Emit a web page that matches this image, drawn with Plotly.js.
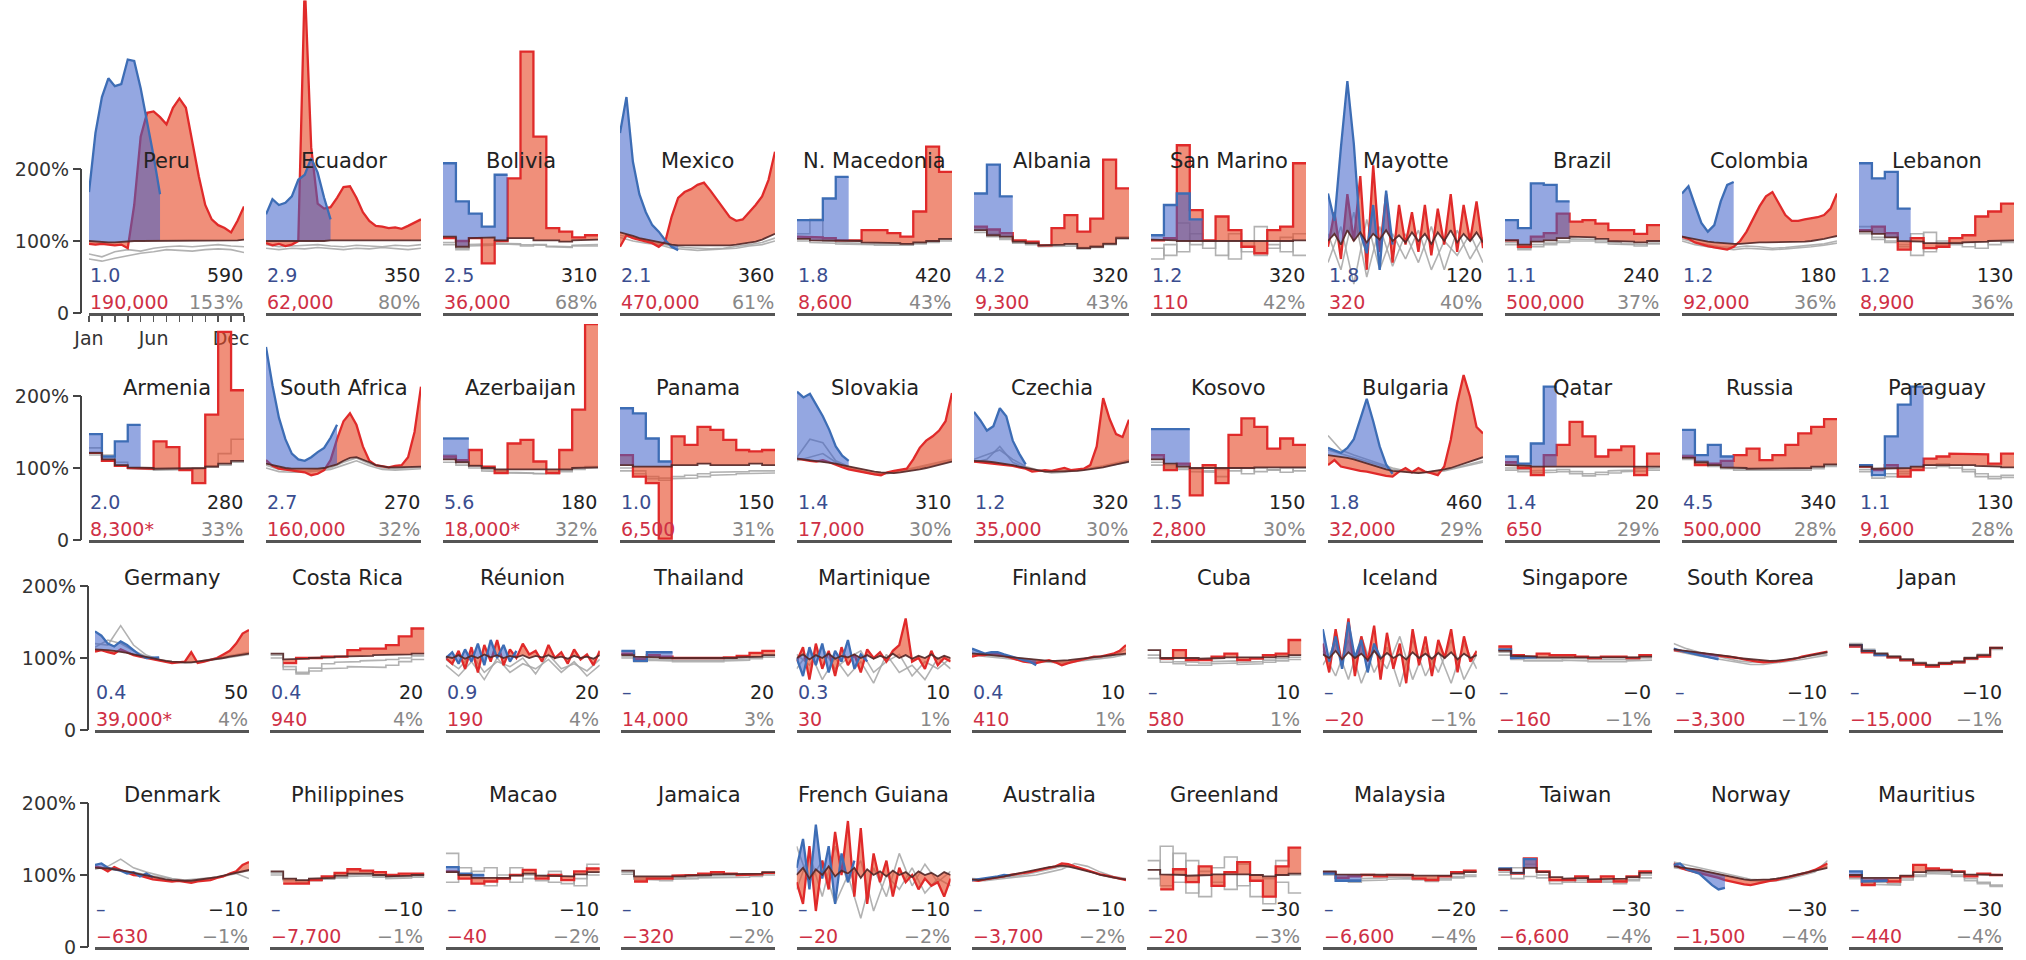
<!DOCTYPE html>
<html><head><meta charset="utf-8">
<script src="https://cdn.plot.ly/plotly-3.0.1.min.js"></script>
<style>html,body{margin:0;padding:0;background:#fff;}</style>
</head><body><div id="chart" style="width:2026px;height:960px"></div>
<script>
// ---------- DATA (percent of baseline mortality) ----------
// weekly-style panels: red/base = 25 points (half-month grid), blue = first k points, grey = 13 points (monthly grid)
// monthly panels: 12 values each
const peruBlue=[168,250,300,326,315,318,352,350,312,265,218,165];
const peruRed=[96,95,96,95,94,95,90,150,245,278,280,272,262,285,298,285,235,190,150,130,122,118,112,128,148];
const peruBase=[100,99,99,98,98,99,100,100,100,100,101,101,101,101,101,100,100,100,100,100,100,100,101,101,102];
const peruG1=[82,78,85,88,86,90,92,93,92,94,95,93,92], peruG2=[75,72,76,80,83,85,88,87,86,88,89,88,84];

const ecuBlue=[137,158,150,153,162,185,192,215,195,160,130];
const ecuRed=[97,94,96,93,95,100,460,230,152,145,147,160,175,176,160,140,128,121,120,118,119,117,121,125,130];
const ecuBase=[100,100,99,99,99,100,100,100,100,100,101,101,101,101,100,100,100,100,100,100,100,100,100,100,101];
const ecuG1=[95,92,93,94,95,93,92,94,93,92,94,93,95], ecuG2=[90,88,90,89,91,90,88,90,89,91,90,88,90];

const bolBlue=[208,155,138,120,192];
const bolRed=[104,100,104,69,100,187,363,245,118,113,105,108];
const bolBase=[106,92,104,105,101,104,104,101,101,99,101,102];
const bolG1=[98,90,95,96,97,96,95,94,93,92,94,95], bolG2=[95,88,93,94,96,95,93,95,92,91,93,93];

const mexBlue=[250,300,210,165,140,122,113,101,92,87];
const mexRed=[92,108,104,102,100,97,92,99,134,160,168,172,178,181,170,158,145,133,128,130,140,150,162,185,224];
const mexBase=[112,110,107,104,102,100,98,96,95,94,94,94,93,93,93,94,94,94,95,96,97,99,102,106,110];
const mexG1=[108,104,100,97,93,91,90,89,90,92,95,98,104], mexG2=[105,100,97,95,90,88,87,88,89,90,93,95,100];

const macBlue=[129,129,159,189];
const macRed=[106,105,104,101,101,115,115,111,106,141,231,196];
const macBase=[103,101,100,100,100,98,97,97,96,98,100,103];
const macG1=[110,130,100,98,97,96,95,96,95,97,99,102], macG2=[100,98,97,96,95,95,94,93,94,96,98,100];

const albBlue=[166,206,162];
const albRed=[120,116,111,101,99,94,118,136,113,131,213,173];
const albBase=[115,108,106,99,97,94,95,96,90,92,96,104];
const albG1=[118,110,104,98,96,93,94,95,91,93,97,106], albG2=[112,106,102,97,95,92,93,93,89,91,95,103];

const smrBlue=[108,150,166,130];
const smrRed=[101,104,233,143,101,134,115,92,83,115,120,208];
const smrBase=[102,101,100,100,100,100,100,100,99,100,100,101];
const smrG1=[90,80,125,95,100,80,110,85,120,95,85,110], smrG2=[75,95,85,110,90,100,75,100,80,90,105,80];

const mayBlue=[166,128,230,322,235,111,83,150,60,170,95];
const mayRed=[92,140,75,165,100,190,60,205,85,165,70,150,95,140,85,150,80,145,95,165,85,150,100,155,90];
const mayBase=[100,110,95,115,100,112,98,110,102,115,100,108,98,112,100,110,96,112,100,115,98,110,100,112,98];
const mayG1=[70,120,40,130,60,110,75,115,60,100,80,110,70], mayG2=[110,60,140,50,120,65,110,70,120,60,115,75,105];

const braBlue=[129,118,180,178,155];
const braRed=[101,92,106,111,138,127,129,124,115,115,110,122];
const braBase=[101,95,99,101,104,106,105,103,100,99,98,100];
const braG1=[98,90,95,97,100,103,102,100,98,96,95,97], braG2=[95,88,92,95,98,100,100,98,96,95,93,96];

const colBlue=[166,176,150,125,113,122,155,178,182];
const colRed=[106,103,98,95,93,91,89,88,92,100,113,130,148,162,168,152,136,128,128,130,131,133,136,145,166];
const colBase=[106,104,102,100,99,98,97,97,96,96,97,97,98,98,98,98,98,98,98,99,100,101,103,105,107];
const colG1=[103,98,95,92,91,93,92,90,91,93,94,96,100], colG2=[100,95,92,90,88,90,89,88,89,90,92,94,97];

const lebBlue=[208,187,196,145];
const lebRed=[115,120,111,88,104,90,92,104,108,134,141,152];
const lebBase=[113,110,105,100,99,97,96,97,98,99,100,101];
const lebG1=[120,105,100,95,110,85,100,95,98,90,100,98], lebG2=[110,102,98,92,80,112,95,98,92,99,95,100];

const armBlue=[147,116,137,160];
const armRed=[121,110,103,100,99,137,129,97,79,174,289,208];
const armBase=[121,112,104,101,100,99,99,99,100,102,106,110];
const armG1=[128,118,108,100,99,98,98,99,100,103,120,140], armG2=[118,110,103,99,98,97,97,98,99,101,104,108];

const zafBlue=[268,215,170,140,120,112,110,115,122,128,142,160];
const zafRed=[111,103,99,98,97,96,94,90,92,97,111,140,165,176,160,130,110,104,102,101,103,104,115,150,213];
const zafBase=[106,104,101,100,99,99,98,98,99,100,102,105,110,114,115,112,108,104,102,101,101,101,102,102,102];
const zafG1=[104,98,97,96,98,100,108,114,106,100,99,100,101], zafG2=[100,95,94,94,96,98,104,110,103,98,97,98,99];

const azeBlue=[141,141];
const azeRed=[116,111,125,102,93,134,139,109,93,125,181,300];
const azeBase=[112,108,103,100,98,97,97,98,97,98,100,101];
const azeG1=[118,110,104,98,96,94,93,92,94,97,100,102], azeG2=[108,104,100,96,95,93,92,93,92,95,98,100];

const panBlue=[183,176,141,109];
const panRed=[118,88,79,2,144,132,157,153,139,125,123,125];
const panBase=[104,102,102,102,104,104,106,104,104,104,106,104];
const panG1=[100,96,88,86,88,90,92,94,95,95,96,96], panG2=[96,92,85,83,85,86,88,90,91,92,93,93];

const svkBlue=[206,198,203,188,172,153,130,117,110];
const svkRed=[113,111,110,109,111,108,104,101,98,96,94,92,91,90,94,96,97,99,112,128,138,144,152,165,204];
const svkBase=[113,112,111,110,109,108,106,104,102,100,98,96,95,94,93,93,94,95,96,98,100,102,104,106,109];
const svkG1=[115,140,135,110,102,96,92,93,96,100,104,108,112], svkG2=[110,115,120,108,100,95,91,92,95,98,102,106,110];

const czeBlue=[178,166,152,158,183,172,138,120,105];
const czeRed=[109,108,107,106,106,105,103,101,99,95,96,97,96,98,100,97,98,99,104,130,197,168,147,143,167];
const czeBase=[110,110,109,108,107,106,104,102,100,98,96,95,95,95,95,95,96,97,98,99,101,103,105,107,109];
const czeG1=[112,118,125,112,102,97,94,95,97,100,103,107,111], czeG2=[108,112,130,108,100,96,93,94,96,99,102,105,108];

const kosBlue=[154,155,154];
const kosRed=[118,97,106,62,104,79,146,169,157,127,141,132];
const kosBase=[112,106,102,100,99,100,100,100,101,101,102,101];
const kosG1=[108,103,100,98,96,98,100,92,100,98,94,100], kosG2=[104,100,98,95,94,88,96,100,95,97,100,96];

const bgrBlue=[128,124,121,128,140,168,196,165,130,105,92];
const bgrRed=[104,111,102,100,97,96,95,93,90,89,88,95,100,94,100,95,93,90,102,139,190,229,199,157,148];
const bgrBase=[118,117,116,114,112,109,106,103,100,98,96,95,94,93,93,94,95,96,98,100,103,106,109,112,115];
const bgrG1=[145,125,118,112,106,100,96,94,95,97,101,106,110], bgrG2=[125,120,115,110,104,98,95,93,94,96,100,104,108];

const qatBlue=[116,106,134,213];
const qatRed=[108,100,90,118,132,164,144,116,125,130,90,120];
const qatBase=[104,103,102,102,102,102,102,102,102,102,102,102];
const qatG1=[100,98,96,97,98,95,92,94,96,97,99,100], qatG2=[97,95,93,94,95,92,89,91,93,95,96,97];

const rusBlue=[153,118,132,116];
const rusRed=[116,104,106,110,118,127,111,118,132,148,157,168];
const rusBase=[114,108,104,101,100,99,100,99,99,100,102,105];
const rusG1=[118,110,105,101,99,98,99,98,98,99,101,104], rusG2=[112,106,102,99,97,96,97,96,96,97,99,102];

const pryBlue=[104,90,144,188,213];
const pryRed=[102,97,104,88,97,113,116,120,120,119,106,120];
const pryBase=[102,99,99,100,102,104,105,105,104,103,102,101];
const pryG1=[98,90,92,95,100,104,106,104,98,92,88,90], pryG2=[95,86,88,92,97,100,102,100,95,88,85,87];

const deuBlue=[137,131,120,116,123,118,111,104,100,100,101];
const deuRed=[109,111,108,106,112,108,104,102,100,98,97,95,93,94,95,108,93,95,97,100,105,110,120,134,139];
const deuBase=[112,112,111,110,109,107,105,103,101,99,97,96,95,94,94,94,95,96,97,99,100,102,103,105,106];
const deuG1=[120,118,145,118,104,98,95,94,95,98,101,104,108], deuG2=[115,125,120,110,102,97,94,93,94,97,100,102,105];

const criBlue=[];
const criRed=[null,93,100,100,102,102,111,113,113,118,130,141];
const criBase=[106,98,99,100,101,102,103,103,104,104,105,106];
const criG1=[104,88,80,86,92,94,95,96,97,98,100,103], criG2=[100,84,78,82,85,86,88,88,87,90,95,98];

const reuBlue=[100,108,92,112,95,120,90,125,100,118,95,110];
const reuRed=[100,92,110,85,115,80,118,95,125,90,112,100,120,105,110,95,118,100,108,92,112,98,105,90,110];
const reuBase=[102,100,104,99,103,100,105,101,104,100,103,101,104,100,103,101,104,100,102,99,103,100,102,99,104];
const reuG1=[90,75,95,70,100,80,92,85,98,80,95,75,90], reuG2=[98,85,105,80,95,88,100,78,105,85,92,82,98];

const thaBlue=[110,96,108,108];
const thaRed=[106,98,104,102,100,100,99,100,101,103,107,110];
const thaBase=[104,102,101,100,100,99,99,99,100,101,102,104];
const thaG1=[102,97,99,98,97,96,96,97,98,99,101,103], thaG2=[100,95,97,96,95,95,94,95,96,97,99,101];

const mtqBlue=[100,75,115,90,120,80,110,95,125,85,105,95];
const mtqRed=[95,115,70,120,85,110,75,115,90,105,80,112,100,108,95,110,118,155,95,100,85,110,90,100,95];
const mtqBase=[100,105,98,104,100,106,99,103,101,105,100,104,99,103,100,106,100,104,99,103,100,105,99,103,100];
const mtqG1=[85,110,70,100,75,95,65,105,80,90,70,100,85], mtqG2=[105,90,115,85,100,110,80,95,105,75,95,85,100];

const finBlue=[113,110,106,108,108,105,103,100,97,95,90];
const finRed=[102,104,104,106,106,103,100,98,95,94,93,95,97,94,90,93,95,98,100,102,102,104,106,110,118];
const finBase=[106,106,105,104,103,102,101,100,99,98,97,97,96,96,96,97,98,99,100,101,102,103,104,105,106];
const finG1=[108,104,103,101,99,97,95,95,96,98,100,103,112], finG2=[104,102,100,99,97,95,94,93,95,97,99,101,105];

const cubBlue=[];
const cubRed=[null,99,111,97,97,102,106,97,99,104,106,125];
const cubBase=[111,100,101,100,99,100,101,100,100,101,102,104];
const cubG1=[104,98,95,94,93,95,96,94,95,97,99,101], cubG2=[100,94,92,90,90,92,93,91,92,94,96,98];

const islBlue=[140,95,130,85,150,100,125,80,120,100];
const islRed=[120,80,140,90,155,75,130,95,145,70,135,85,120,65,140,90,130,75,125,100,140,80,130,95,110];
const islBase=[105,100,110,98,108,100,106,97,110,99,107,100,105,98,108,100,106,99,107,100,108,98,106,100,104];
const islG1=[90,120,70,130,80,115,60,125,75,110,65,120,85], islG2=[110,75,125,65,110,85,130,70,115,80,125,70,105];

const sgpBlue=[112,100,101];
const sgpRed=[116,104,102,106,104,104,102,100,102,102,100,104];
const sgpBase=[110,103,102,101,101,101,101,100,101,101,101,102];
const sgpG1=[108,101,99,98,99,100,99,98,97,97,98,100], sgpG2=[104,98,96,95,96,97,96,95,94,95,96,97];

const korBlue=[113,110,108,106,104,102,100,98];
const korRed=[111,110,109,108,107,106,105,104,103,101,100,98,96,95,94,94,95,96,97,99,102,104,106,107,109];
const korBase=[112,111,110,109,108,107,106,105,104,102,100,99,98,97,96,96,96,97,98,99,101,103,105,107,108];
const korG1=[120,113,108,104,100,96,94,95,96,98,101,104,106], korG2=[110,106,103,100,97,93,91,91,93,95,98,101,104];

const jpnBlue=[118,110,104];
const jpnRed=[116,108,104,101,97,91,88,92,94,99,102,114];
const jpnBase=[118,110,106,102,98,93,90,93,95,100,104,114];
const jpnG1=[120,112,107,103,99,94,91,94,96,101,105,115], jpnG2=[116,108,104,100,96,91,88,91,93,98,102,112];

const dnkBlue=[114,116,110,108,106,102,104,98,102,97];
const dnkRed=[112,110,105,111,107,103,100,99,96,94,93,92,91,92,90,89,91,92,93,96,98,102,105,114,118];
const dnkBase=[110,110,109,108,107,105,103,101,99,97,95,94,93,92,92,92,93,94,95,97,99,101,103,105,107];
const dnkG1=[108,112,122,110,104,100,95,93,94,96,99,103,106], dnkG2=[112,108,106,104,100,97,94,92,93,95,98,102,95];

const phlBlue=[];
const phlRed=[null,88,88,93,98,103,108,106,104,100,102,102];
const phlBase=[105,95,93,95,96,99,102,102,100,98,99,100];
const phlG1=[103,94,92,94,96,98,100,101,99,97,98,99], phlG2=[100,92,90,92,94,96,98,99,97,95,96,97];

const mcoBlue=[111,102,100];
const mcoRed=[105,95,88,91,95,100,107,95,100,93,105,109];
const mcoBase=[104,100,96,95,96,99,102,99,99,98,101,104];
const mcoG1=[130,110,95,85,100,110,95,100,90,88,95,115], mcoG2=[90,100,105,110,95,90,100,92,105,98,85,100];

const jamBlue=[];
const jamRed=[null,91,95,95,99,100,102,104,102,100,101,103];
const jamBase=[106,98,97,97,98,99,100,101,101,101,102,104];
const jamG1=[104,96,95,95,96,97,98,99,99,99,100,102], jamG2=[101,94,93,92,94,95,96,97,97,97,98,100];

const gufBlue=[110,150,80,170,95,140,60,130,90,120];
const gufRed=[90,60,140,50,120,80,160,100,175,70,165,60,130,90,120,70,110,90,100,80,95,85,90,70,95];
const gufBase=[100,110,95,108,100,112,98,106,102,110,96,108,100,105,98,106,100,104,97,105,100,103,98,104,100];
const gufG1=[140,90,120,60,100,40,110,70,130,85,115,90,105], gufG2=[80,130,70,140,90,120,50,100,80,110,75,95,85];

const ausBlue=[93,94,95,97,98,100,99];
const ausRed=[93,92,94,95,97,98,100,101,103,104,106,108,110,112,116,115,112,109,106,103,101,99,97,95,93];
const ausBase=[94,93,94,95,96,98,100,102,104,106,108,110,111,112,113,112,110,108,105,103,100,98,96,95,94];
const ausG1=[92,92,94,96,98,100,104,108,116,112,104,98,95], ausG2=[95,94,96,98,100,104,108,112,110,106,100,96,94];

const grlBlue=[];
const grlRed=[null,80,108,90,112,85,104,118,92,70,112,138];
const grlBase=[107,101,100,99,100,101,102,101,100,98,100,102];
const grlG1=[95,140,90,120,70,110,125,85,100,60,90,75], grlG2=[120,85,130,75,105,90,80,115,70,95,120,100];

const mysBlue=[102,92,92];
const mysRed=[104,96,98,100,98,100,100,95,93,98,104,106];
const mysBase=[105,101,100,100,100,100,100,99,98,99,102,104];
const mysG1=[100,93,90,92,93,94,95,93,91,93,96,98], mysG2=[102,95,93,95,96,97,97,95,94,95,98,100];

const twnBlue=[109,103,122];
const twnRed=[107,102,123,105,93,93,98,91,98,91,98,105];
const twnBase=[108,103,110,104,97,95,96,94,95,95,97,103];
const twnG1=[104,95,115,100,92,90,93,90,92,91,94,100], twnG2=[100,110,98,96,88,92,90,89,90,88,92,96];

const norBlue=[114,116,108,105,102,94,86,80,82];
const norRed=[116,110,107,105,103,100,98,96,93,91,88,87,86,88,91,92,93,95,97,99,102,104,107,111,116];
const norBase=[112,111,110,109,107,105,103,101,99,97,95,94,93,93,93,94,95,96,98,100,102,104,106,108,110];
const norG1=[118,114,110,106,102,97,94,93,94,97,101,106,112], norG2=[110,108,106,103,99,95,92,91,92,95,99,104,120];

const musBlue=[105,91,92];
const musRed=[98,86,93,91,98,114,109,107,105,98,102,100];
const musBase=[100,96,95,96,99,104,106,106,104,101,100,100];
const musG1=[97,92,90,88,96,100,104,103,100,95,90,86], musG2=[95,89,87,86,93,98,102,101,98,92,88,84];

// ---------- PANEL LIST (reading order, 11 per row) ----------
const countries=['Peru','Ecuador','Bolivia','Mexico','N. Macedonia','Albania','San Marino','Mayotte','Brazil','Colombia','Lebanon',
 'Armenia','South Africa','Azerbaijan','Panama','Slovakia','Czechia','Kosovo','Bulgaria','Qatar','Russia','Paraguay',
 'Germany','Costa Rica','Réunion','Thailand','Martinique','Finland','Cuba','Iceland','Singapore','South Korea','Japan',
 'Denmark','Philippines','Macao','Jamaica','French Guiana','Australia','Greenland','Malaysia','Taiwan','Norway','Mauritius'];
const monthly=[0,0,1,0,1,1,1,0,1,0,1, 1,0,1,1,0,0,1,0,1,1,1, 0,1,0,1,0,0,1,0,1,0,1, 0,1,1,1,0,0,1,1,1,0,1];
const blueLabel=['1.0','2.9','2.5','2.1','1.8','4.2','1.2','1.8','1.1','1.2','1.2',
 '2.0','2.7','5.6','1.0','1.4','1.2','1.5','1.8','1.4','4.5','1.1',
 '0.4','0.4','0.9','–','0.3','0.4','–','–','–','–','–',
 '–','–','–','–','–','–','–','–','–','–','–'];
const perMillionLabel=['590','350','310','360','420','320','320','120','240','180','130',
 '280','270','180','150','310','320','150','460','20','340','130',
 '50','20','20','20','10','10','10','−0','−0','−10','−10',
 '−10','−10','−10','−10','−10','−10','−30','−20','−30','−30','−30'];
const excessLabel=['190,000','62,000','36,000','470,000','8,600','9,300','110','320','500,000','92,000','8,900',
 '8,300*','160,000','18,000*','6,500','17,000','35,000','2,800','32,000','650','500,000','9,600',
 '39,000*','940','190','14,000','30','410','580','−20','−160','−3,300','−15,000',
 '−630','−7,700','−40','−320','−20','−3,700','−20','−6,600','−6,600','−1,500','−440'];
const pctLabel=['153%','80%','68%','61%','43%','43%','42%','40%','37%','36%','36%',
 '33%','32%','32%','31%','30%','30%','30%','29%','29%','28%','28%',
 '4%','4%','4%','3%','1%','1%','1%','−1%','−1%','−1%','−1%',
 '−1%','−1%','−2%','−2%','−2%','−2%','−3%','−4%','−4%','−4%','−4%'];
const blueData=[peruBlue,ecuBlue,bolBlue,mexBlue,macBlue,albBlue,smrBlue,mayBlue,braBlue,colBlue,lebBlue,
 armBlue,zafBlue,azeBlue,panBlue,svkBlue,czeBlue,kosBlue,bgrBlue,qatBlue,rusBlue,pryBlue,
 deuBlue,criBlue,reuBlue,thaBlue,mtqBlue,finBlue,cubBlue,islBlue,sgpBlue,korBlue,jpnBlue,
 dnkBlue,phlBlue,mcoBlue,jamBlue,gufBlue,ausBlue,grlBlue,mysBlue,twnBlue,norBlue,musBlue];
const redData=[peruRed,ecuRed,bolRed,mexRed,macRed,albRed,smrRed,mayRed,braRed,colRed,lebRed,
 armRed,zafRed,azeRed,panRed,svkRed,czeRed,kosRed,bgrRed,qatRed,rusRed,pryRed,
 deuRed,criRed,reuRed,thaRed,mtqRed,finRed,cubRed,islRed,sgpRed,korRed,jpnRed,
 dnkRed,phlRed,mcoRed,jamRed,gufRed,ausRed,grlRed,mysRed,twnRed,norRed,musRed];
const baseData=[peruBase,ecuBase,bolBase,mexBase,macBase,albBase,smrBase,mayBase,braBase,colBase,lebBase,
 armBase,zafBase,azeBase,panBase,svkBase,czeBase,kosBase,bgrBase,qatBase,rusBase,pryBase,
 deuBase,criBase,reuBase,thaBase,mtqBase,finBase,cubBase,islBase,sgpBase,korBase,jpnBase,
 dnkBase,phlBase,mcoBase,jamBase,gufBase,ausBase,grlBase,mysBase,twnBase,norBase,musBase];
const grey1Data=[peruG1,ecuG1,bolG1,mexG1,macG1,albG1,smrG1,mayG1,braG1,colG1,lebG1,
 armG1,zafG1,azeG1,panG1,svkG1,czeG1,kosG1,bgrG1,qatG1,rusG1,pryG1,
 deuG1,criG1,reuG1,thaG1,mtqG1,finG1,cubG1,islG1,sgpG1,korG1,jpnG1,
 dnkG1,phlG1,mcoG1,jamG1,gufG1,ausG1,grlG1,mysG1,twnG1,norG1,musG1];
const grey2Data=[peruG2,ecuG2,bolG2,mexG2,macG2,albG2,smrG2,mayG2,braG2,colG2,lebG2,
 armG2,zafG2,azeG2,panG2,svkG2,czeG2,kosG2,bgrG2,qatG2,rusG2,pryG2,
 deuG2,criG2,reuG2,thaG2,mtqG2,finG2,cubG2,islG2,sgpG2,korG2,jpnG2,
 dnkG2,phlG2,mcoG2,jamG2,gufG2,ausG2,grlG2,mysG2,twnG2,norG2,musG2];
const monthTickLabels=['Jan','','','','','Jun','','','','','','Dec',''];
const yTickVals=[0,100,200], yTickText=['0','100%','200%'];

// ---------- LAYOUT GEOMETRY ----------
const W=2026,H=960,PX=0.72;
const rowZero=[313,540,730,947], rowTop=[434,300,220,220], spineX=[81,81,88,88];
function colLeft(r,c){return r<2?89+177*c:95+175.4*c;}
function colWidth(r){return r<2?155:154;}

// build coordinates from values (monthly → steps, otherwise points on a regular grid)
function toXY(vals,isM,dx){
  const x=[],y=[];
  vals.forEach((v,i)=>{ if(v==null) return;
    if(isM){x.push(i,i+1);y.push(v,v);} else {x.push(i*dx);y.push(v);} });
  return {x,y};
}
const RED='#e02a2a', REDFILL='rgba(230,75,40,0.62)', BLUE='#3d6db5', BLUEFILL='rgba(60,95,200,0.55)';
const GREY='rgba(165,165,165,0.85)', BASE='rgba(85,40,40,0.92)';

const traces=[], layout={width:W,height:H,margin:{l:0,r:0,t:0,b:0},paper_bgcolor:'#fff',plot_bgcolor:'rgba(0,0,0,0)',
  showlegend:false,hovermode:false,font:{family:'DejaVu Sans, sans-serif',color:'#222'},annotations:[],shapes:[]};

countries.forEach((name,p)=>{
  const r=Math.floor(p/11), c=p%11, n=p+1;
  const xa=n===1?'x':'x'+n, ya=n===1?'y':'y'+n;
  const xk=n===1?'xaxis':'xaxis'+n, yk=n===1?'yaxis':'yaxis'+n;
  const isM=monthly[p]===1, dx=0.5;
  const L=colLeft(r,c), Wd=colWidth(r);
  const z=rowZero[r], top=rowTop[r];
  const common={xaxis:xa,yaxis:ya,mode:'lines',hoverinfo:'skip'};
  // grey earlier years
  [grey1Data[p],grey2Data[p]].forEach(g=>{
    const d=toXY(g,isM,1);
    traces.push(Object.assign({},common,{x:d.x,y:d.y,line:{color:GREY,width:1.6}}));
  });
  // red (2020) filled against baseline
  const red=redData[p], base=baseData[p];
  const baseR=base.map((v,i)=>red[i]==null?null:v);
  let d=toXY(baseR,isM,dx);
  traces.push(Object.assign({},common,{x:d.x,y:d.y,line:{width:0,color:'rgba(0,0,0,0)'}}));
  d=toXY(red,isM,dx);
  traces.push(Object.assign({},common,{x:d.x,y:d.y,fill:'tonexty',fillcolor:REDFILL,line:{color:RED,width:2.3}}));
  // blue (2021) filled against baseline
  const blue=blueData[p];
  if(blue.length){
    const baseB=base.map((v,i)=>i<blue.length?v:null);
    d=toXY(baseB,isM,dx);
    traces.push(Object.assign({},common,{x:d.x,y:d.y,line:{width:0,color:'rgba(0,0,0,0)'}}));
    d=toXY(blue,isM,dx);
    traces.push(Object.assign({},common,{x:d.x,y:d.y,fill:'tonexty',fillcolor:BLUEFILL,line:{color:BLUE,width:2.3}}));
  }
  // baseline
  d=toXY(base,isM,dx);
  traces.push(Object.assign({},common,{x:d.x,y:d.y,line:{color:BASE,width:1.8}}));

  // axes
  const xaxis={domain:[L/W,(L+Wd)/W],range:[0,12],anchor:ya,showline:true,linecolor:'#555',linewidth:3,
    showgrid:false,zeroline:false,ticks:'',showticklabels:false,fixedrange:true};
  if(p===0){
    Object.assign(xaxis,{ticks:'outside',tickvals:[0,1,2,3,4,5,6,7,8,9,10,11,12],ticktext:monthTickLabels,
      ticklen:6,tickwidth:1.5,tickcolor:'#555',showticklabels:true,ticklabelshift:6.4,ticklabeloverflow:'allow',
      tickfont:{size:19,color:'#333'}});
  }
  layout[xk]=xaxis;
  const yaxis={domain:[1-z/H,Math.min(1,1-(z-top*PX)/H)],range:[0,top],anchor:xa,showgrid:false,zeroline:false,
    showline:false,fixedrange:true,showticklabels:false,ticks:''};
  if(c===0){
    Object.assign(yaxis,{anchor:'free',position:spineX[r]/W,ticks:'outside',ticklen:8,tickwidth:2,tickcolor:'#444',
      tickvals:yTickVals,ticktext:yTickText,showticklabels:true,ticklabeloverflow:'allow',
      tickfont:{size:19,color:'#333'}});
    layout.shapes.push({type:'line',xref:'paper',yref:ya,x0:spineX[r]/W,x1:spineX[r]/W,y0:0,y1:200,
      line:{color:'#444',width:2}});
  }
  layout[yk]=yaxis;

  // texts
  const A=(text,x,y,xanchor,color,size)=>layout.annotations.push({xref:xa,yref:ya,x,y,text,showarrow:false,
    xanchor,yanchor:'middle',borderpad:0,font:{size,color,family:'DejaVu Sans, sans-serif'}});
  A(name,6,211,'center','#222',21);
  A(blueLabel[p],0,53,'left','#3a4d8f',19);
  A(perMillionLabel[p],12,53,'right','#222',19);
  A(excessLabel[p],0,15,'left','#cf3045',19);
  A(pctLabel[p],12,15,'right','#888',19);
});

Plotly.newPlot('chart',traces,layout,{staticPlot:true,displayModeBar:false});
</script></body></html>
